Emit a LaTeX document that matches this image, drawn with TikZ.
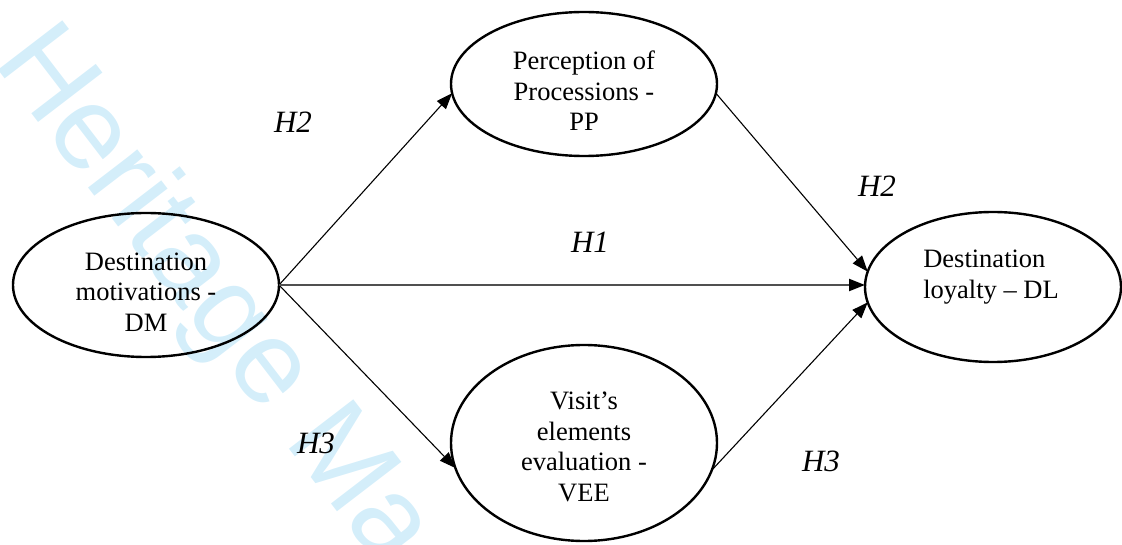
\documentclass[tikz,border=0pt]{standalone}
\usepackage{fontspec}
\setmainfont{Liberation Serif}
\newfontfamily\wmfont{Liberation Sans}
\usetikzlibrary{shapes.geometric,arrows.meta}
\definecolor{wmblue}{RGB}{212,238,250}
\definecolor{hgrey}{RGB}{80,80,80}
\begin{document}
\begin{tikzpicture}[x=1pt,y=-1pt,
  oval/.style={draw=black, line width=2.4pt, ellipse, inner sep=0pt, outer sep=0pt},
  lbl/.style={font=\fontsize{26.5}{30.5}\selectfont, align=center, inner sep=0pt},
  hyp/.style={font=\fontsize{31}{31}\selectfont\itshape, inner sep=0pt},
  conn/.style={line width=1.1pt, -{Triangle[length=16pt,width=12pt,color=black]}},
  wm/.style={font=\wmfont\fontsize{118}{118}\selectfont, text=wmblue, inner sep=0pt, rotate=-52.5, anchor=base west}
]
\useasboundingbox (0,0) rectangle (1122,545);
\clip (0,0) rectangle (1122,545);
\node[wm] (wm) at (-8,62) {Heritage Ma};

\node[oval, minimum width=266pt, minimum height=144pt] (dm) at (146,285) {};
\node[oval, minimum width=266pt, minimum height=144pt] (pp) at (584,84) {};
\node[oval, minimum width=266pt, minimum height=196pt] (vee) at (584,443) {};
\node[oval, minimum width=256pt, minimum height=150pt] (dl) at (993,287) {};

\node[lbl] (dmt) at (146,292) {Destination\\motivations -\\DM};
\node[lbl] (ppt) at (584,91) {Perception of\\Processions -\\PP};
\node[lbl] (veet) at (584,447) {Visit’s\\elements\\evaluation -\\VEE};
\node[lbl, align=left] (dlt) at (991,277) {Destination\\loyalty – DL};

\draw[conn] (dm.east) -- (pp.184);
\draw[conn] (dm.east) -- (vee.191);
\draw[conn, draw=hgrey, line width=2.2pt] (dm.east) -- (dm.east -| dl.west);
\draw[conn] (pp.356) -- (dl.173);
\draw[conn] (vee.348) -- (dl.187);

\node[hyp] (h2a) at (293,122) {H2};
\node[hyp] (h2b) at (877,186) {H2};
\node[hyp] (h1) at (590,242) {H1};
\node[hyp] (h3a) at (316,443) {H3};
\node[hyp] (h3b) at (821,461) {H3};
\end{tikzpicture}
\end{document}
